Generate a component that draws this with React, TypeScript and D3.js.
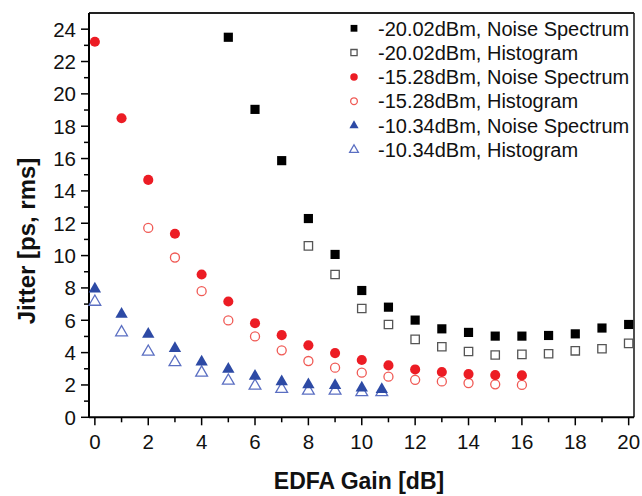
import React from "react";
import * as d3 from "d3";

const W = 642;
const H = 496;

const blackNSGain = [5, 6, 7, 8, 9, 10, 11, 12, 13, 14, 15, 16, 17, 18, 19, 20];
const blackNSJitter = [23.5, 19.04, 15.87, 12.29, 10.07, 7.84, 6.81, 6.01, 5.47, 5.25, 5.02, 5.02, 5.06, 5.16, 5.52, 5.74];
const blackHGain = [8, 9, 10, 11, 12, 13, 14, 15, 16, 17, 18, 19, 20];
const blackHJitter = [10.6, 8.83, 6.73, 5.74, 4.82, 4.36, 4.07, 3.85, 3.89, 3.93, 4.11, 4.24, 4.57];
const redNSGain = [0, 1, 2, 3, 4, 5, 6, 7, 8, 9, 10, 11, 12, 13, 14, 15, 16];
const redNSJitter = [23.22, 18.49, 14.68, 11.35, 8.83, 7.16, 5.82, 5.08, 4.45, 3.97, 3.54, 3.21, 2.96, 2.8, 2.67, 2.61, 2.59];
const redHGain = [2, 3, 4, 5, 6, 7, 8, 9, 10, 11, 12, 13, 14, 15, 16];
const redHJitter = [11.71, 9.88, 7.8, 5.99, 5.0, 4.14, 3.48, 3.07, 2.76, 2.51, 2.32, 2.22, 2.12, 2.04, 2.0];
const blueGain = [0, 1, 2, 3, 4, 5, 6, 7, 8, 9, 10, 10.75];
const blueNSJitter = [7.94, 6.38, 5.14, 4.26, 3.42, 2.98, 2.55, 2.2, 2.02, 1.97, 1.82, 1.72];
const blueHJitter = [7.14, 5.25, 4.05, 3.4, 2.76, 2.26, 1.95, 1.75, 1.64, 1.64, 1.55, 1.55];

const legendLabels = [
  "-20.02dBm, Noise Spectrum",
  "-20.02dBm, Histogram",
  "-15.28dBm, Noise Spectrum",
  "-15.28dBm, Histogram",
  "-10.34dBm, Noise Spectrum",
  "-10.34dBm, Histogram",
];
const xTicks = [0, 2, 4, 6, 8, 10, 12, 14, 16, 18, 20];
const yTicks = [0, 2, 4, 6, 8, 10, 12, 14, 16, 18, 20, 22, 24];

const FONT = "'Liberation Sans', Arial, Helvetica, sans-serif";

const left = 89, right = 634, top = 13, bottom = 417.3;
const x = d3.scaleLinear().domain([-0.22, 20.2]).range([left, right]);
const y = d3.scaleLinear().domain([0, 25]).range([bottom, top]);

type Style = { kind: "square" | "circle" | "triangle"; fill: string; stroke: string; size: number; sw: number };

const styles: Style[] = [
  { kind: "square", fill: "#000", stroke: "none", size: 84, sw: 0 },
  { kind: "square", fill: "#fff", stroke: "#555", size: 70, sw: 1.3 },
  { kind: "circle", fill: "#ec1c24", stroke: "none", size: 80, sw: 0 },
  { kind: "circle", fill: "#fff", stroke: "#f05a55", size: 64, sw: 1.3 },
  { kind: "triangle", fill: "#2d4aa5", stroke: "none", size: 66, sw: 0 },
  { kind: "triangle", fill: "#fff", stroke: "#5b6fc2", size: 60, sw: 1.3 },
];

const symType = { square: d3.symbolSquare, circle: d3.symbolCircle, triangle: d3.symbolTriangle };

function Marker({ cx, cy, st, scale = 1 }: { cx: number; cy: number; st: Style; scale?: number }) {
  const p = d3.symbol().type(symType[st.kind]).size(st.size * scale)();
  return <path d={p as string} transform={`translate(${cx},${cy})`} fill={st.fill} stroke={st.stroke} strokeWidth={st.sw} />;
}

const series = [
  { gx: blackNSGain, jy: blackNSJitter, st: styles[0] },
  { gx: blackHGain, jy: blackHJitter, st: styles[1] },
  { gx: redHGain, jy: redHJitter, st: styles[3] },
  { gx: redNSGain, jy: redNSJitter, st: styles[2] },
  { gx: blueGain, jy: blueHJitter, st: styles[5] },
  { gx: blueGain, jy: blueNSJitter, st: styles[4] },
];

export default function App() {
  const xMinor = d3.range(1, 20, 2);
  const yMinor = d3.range(1, 25, 2);
  return (
    <svg width={W} height={H} style={{ position: "absolute", left: 0, top: 0, background: "#fff" }} fontFamily={FONT}>
      {/* frame */}
      <line x1={left} x2={right} y1={top} y2={top} stroke="#222" strokeWidth={2} />
      <line x1={right} x2={right} y1={top} y2={bottom} stroke="#222" strokeWidth={1.6} />
      <line x1={left} x2={right} y1={bottom} y2={bottom} stroke="#000" strokeWidth={2} />
      <line x1={left} x2={left} y1={top} y2={bottom} stroke="#000" strokeWidth={2} />
      {/* x ticks */}
      {xTicks.map((t) => (
        <g key={"xt" + t}>
          <line x1={x(t)} x2={x(t)} y1={bottom} y2={bottom + 8} stroke="#000" strokeWidth={1.5} />
          <text x={x(t)} y={449} textAnchor="middle" fontSize={20.5} fill="#111">{t}</text>
        </g>
      ))}
      {xMinor.map((t) => (
        <line key={"xm" + t} x1={x(t)} x2={x(t)} y1={bottom} y2={bottom + 5} stroke="#000" strokeWidth={1.5} />
      ))}
      {/* y ticks */}
      {yTicks.map((t) => (
        <g key={"yt" + t}>
          <line x1={left - 8} x2={left} y1={y(t)} y2={y(t)} stroke="#000" strokeWidth={1.5} />
          <text x={76} y={y(t)} dy="0.36em" textAnchor="end" fontSize={20.5} fill="#111">{t}</text>
        </g>
      ))}
      {yMinor.map((t) => (
        <line key={"ym" + t} x1={left - 5} x2={left} y1={y(t)} y2={y(t)} stroke="#000" strokeWidth={1.5} />
      ))}
      {/* axis titles */}
      <text x={359} y={489} textAnchor="middle" fontSize={23} fontWeight="bold" fill="#111">EDFA Gain [dB]</text>
      <text transform="translate(35,241) rotate(-90)" textAnchor="middle" fontSize={24} fontWeight="bold" fill="#111">Jitter [ps, rms]</text>
      {/* data */}
      {series.map((s, i) => (
        <g key={"s" + i}>
          {s.gx.map((g, j) => (
            <Marker key={j} cx={x(g)} cy={y(s.jy[j])} st={s.st} />
          ))}
        </g>
      ))}
      {/* legend */}
      {legendLabels.map((lab, i) => {
        const cy = 28.3 + i * 24.3;
        return (
          <g key={"lg" + i}>
            <Marker cx={354} cy={cy} st={styles[i]} scale={0.55} />
            <text x={378} y={cy} dy="0.36em" fontSize={20} fill="#111">{lab}</text>
          </g>
        );
      })}
    </svg>
  );
}
